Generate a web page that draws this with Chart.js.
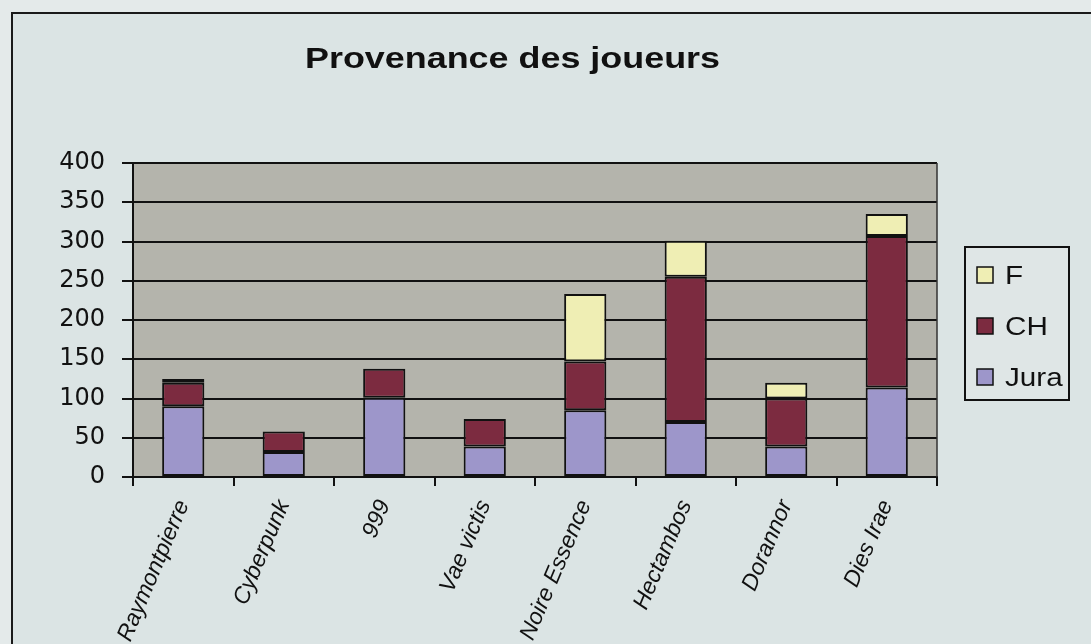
<!DOCTYPE html>
<html><head><meta charset="utf-8">
<script src="https://cdn.jsdelivr.net/npm/chart.js@4/dist/chart.umd.min.js"></script>
<style>
html,body{margin:0;padding:0;width:1091px;height:644px;overflow:hidden;background:#e4eaea;}
#frame{position:absolute;left:11px;top:12px;width:1200px;height:700px;border:2px solid #1a1a1a;background:#dbe4e4;}
#wrap{position:absolute;left:0;top:0;width:1091px;height:644px;}
</style></head><body>
<div id="frame"></div>
<div id="wrap"><canvas id="c" width="1091" height="644"></canvas></div>
<script>
const categories = ["Raymontpierre","Cyberpunk","999","Vae victis","Noire Essence","Hectambos","Dorannor","Dies Irae"];
const juraValues = [90, 32, 101, 39, 85, 70, 39, 114];
const chValues   = [30, 26, 37, 35, 62, 185, 61, 193];
const fValues    = [5, 0, 0, 0, 86, 46, 20, 28];
const seriesNames = ["Jura", "CH", "F"];
const yMin = 0, yMax = 400, yStep = 50;
const titleText = "Provenance des joueurs";

const colors = { Jura: "#9d96ca", CH: "#7c2b40", F: "#efeeb4" };

const plotBg = {
  id: 'plotBg',
  beforeDraw(chart) {
    const {ctx, chartArea: a} = chart;
    ctx.save();
    ctx.fillStyle = '#b4b4ac';
    ctx.fillRect(a.left, a.top, a.right - a.left, a.bottom - a.top);
    ctx.restore();
  },
  afterDraw(chart) {
    const {ctx, chartArea: a} = chart;
    ctx.save();
    ctx.strokeStyle = '#333';
    ctx.lineWidth = 1.5;
    ctx.beginPath();
    ctx.moveTo(a.right, a.bottom);
    ctx.lineTo(a.right, a.top);
    ctx.stroke();
    ctx.restore();
  }
};

const stretchedTitle = {
  id: 'stretchedTitle',
  afterDraw(chart) {
    const ctx = chart.ctx;
    ctx.save();
    ctx.font = 'bold 29px "Liberation Sans", Arial, sans-serif';
    const w = ctx.measureText(titleText).width;
    const sx = 415 / w;
    ctx.translate(512.5, 68);
    ctx.scale(sx, 1);
    ctx.fillStyle = '#111';
    ctx.textAlign = 'center';
    ctx.textBaseline = 'alphabetic';
    ctx.fillText(titleText, 0, 0);
    ctx.restore();
  }
};

const boxLegend = {
  id: 'boxLegend',
  afterDraw(chart) {
    const ctx = chart.ctx;
    ctx.save();
    ctx.fillStyle = '#dfe6e6';
    ctx.fillRect(965, 247, 104, 153);
    ctx.strokeStyle = '#111';
    ctx.lineWidth = 2;
    ctx.strokeRect(965, 247, 104, 153);
    const ds = chart.data.datasets.slice().reverse();
    const ys = [275, 326, 377];
    ds.forEach((d, i) => {
      ctx.fillStyle = d.backgroundColor;
      ctx.fillRect(977, ys[i] - 8, 16, 16);
      ctx.strokeStyle = '#111';
      ctx.lineWidth = 1.5;
      ctx.strokeRect(977, ys[i] - 8, 16, 16);
      ctx.save();
      ctx.translate(1005, ys[i] + 9);
      ctx.scale(1.14, 1);
      ctx.fillStyle = '#111';
      ctx.font = '26px "Liberation Sans", Arial, sans-serif';
      ctx.textBaseline = 'alphabetic';
      ctx.textAlign = 'left';
      ctx.fillText(d.label, 0, 0);
      ctx.restore();
    });
    ctx.restore();
  }
};

const valuesByName = { Jura: juraValues, CH: chValues, F: fValues };

new Chart(document.getElementById('c'), {
  type: 'bar',
  data: {
    labels: categories,
    datasets: seriesNames.map(n => ({
      label: n,
      data: valuesByName[n],
      backgroundColor: colors[n],
      borderColor: '#111',
      borderWidth: 2,
      borderSkipped: false,
      barPercentage: 0.42,
      categoryPercentage: 1
    }))
  },
  options: {
    responsive: false,
    animation: false,
    devicePixelRatio: 1,
    layout: { padding: { left: 12, right: 154, top: 163, bottom: 0 } },
    plugins: {
      legend: { display: false },
      tooltip: { enabled: false },
      title: { display: false }
    },
    scales: {
      x: {
        stacked: true,
        afterFit(s) { s.height = 167; },
        grid: { drawOnChartArea: false, drawTicks: true, tickLength: 9, color: '#111', lineWidth: 2 },
        border: { display: true, color: '#111', width: 2 },
        ticks: {
          color: '#111',
          minRotation: 67, maxRotation: 67,
          padding: 10,
          font: { family: '"Liberation Sans", Arial, sans-serif', size: 23, style: 'italic' }
        }
      },
      y: {
        stacked: true,
        min: yMin, max: yMax,
        afterFit(s) { s.width = 121; },
        grid: { color: '#111', lineWidth: 2, tickLength: 11 },
        border: { display: true, color: '#111', width: 2 },
        ticks: {
          stepSize: yStep,
          color: '#111',
          padding: 17,
          font: { family: '"DejaVu Sans", sans-serif', size: 24 }
        }
      }
    }
  },
  plugins: [plotBg, stretchedTitle, boxLegend]
});
</script>
</body></html>
